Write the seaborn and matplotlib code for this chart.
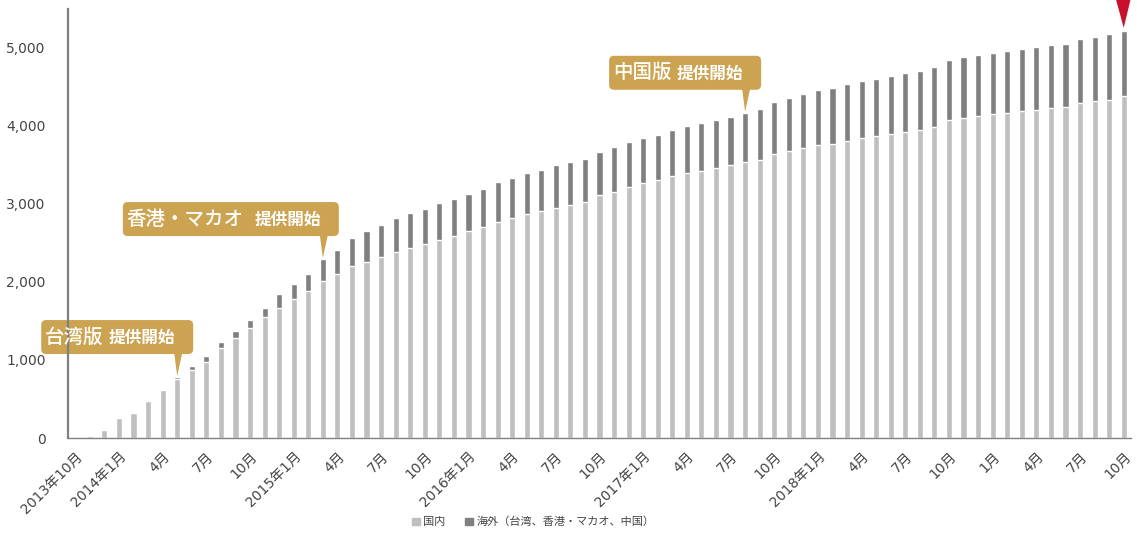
import numpy as np
import pandas as pd
import seaborn as sns
import matplotlib.pyplot as plt
import matplotlib.transforms as mtransforms
from matplotlib.patches import FancyBboxPatch, Polygon, Patch

sns.set_style("white")
plt.rcParams['font.family'] = ['DejaVu Sans', 'Noto Sans CJK JP']

# monthly values, 2013-10 .. 2019-10 (73 months)
domestic = [0, 30, 107, 252, 320, 473, 618, 759, 874, 977,
            1147, 1284, 1412, 1548, 1667, 1782, 1885, 2013, 2102, 2196,
            2256, 2320, 2384, 2435, 2486, 2537, 2588, 2648, 2695, 2768,
            2814, 2861, 2904, 2947, 2985, 3023, 3104, 3151, 3211, 3262,
            3296, 3352, 3394, 3420, 3458, 3497, 3527, 3557, 3629, 3667,
            3710, 3744, 3765, 3804, 3838, 3868, 3889, 3919, 3945, 3983,
            4072, 4098, 4119, 4141, 4162, 4183, 4200, 4222, 4239, 4290,
            4311, 4328, 4375]
overseas = [0, 0, 0, 0, 0, 0, 0, 21, 51, 72,
            85, 89, 98, 119, 175, 188, 209, 277, 307, 358,
            388, 405, 430, 439, 448, 465, 470, 478, 491, 503,
            512, 525, 529, 541, 546, 551, 559, 568, 572, 576,
            580, 588, 593, 606, 606, 610, 635, 652, 665, 683,
            695, 708, 717, 725, 729, 729, 738, 746, 750, 759,
            768, 772, 781, 784, 785, 794, 798, 801, 806, 814,
            823, 836, 836]

tick_labels = ["2013年10月", "2014年1月", "4月", "7月", "10月",
               "2015年1月", "4月", "7月", "10月",
               "2016年1月", "4月", "7月", "10月",
               "2017年1月", "4月", "7月", "10月",
               "2018年1月", "4月", "7月", "10月",
               "1月", "4月", "7月", "10月"]

# callouts: (bar index, main text, sub text, box width px)
callouts = [(7, "台湾版", "提供開始", 152),
            (17, "香港・マカオ", "提供開始", 216),
            (46, "中国版", "提供開始", 152)]

c_dom = "#bfbfbf"
c_ovs = "#7f7f7f"
c_gold = "#cca351"
c_red = "#c8102e"
cjk = ['Noto Sans CJK JP', 'DejaVu Sans']

df = pd.DataFrame({"month": [f"m{i:02d}" for i in range(len(domestic))],
                   "domestic": domestic, "overseas": overseas})
df["total"] = df["domestic"] + df["overseas"]

fig = plt.figure(figsize=(11.37, 5.35), dpi=100)
ax = fig.add_axes([68 / 1137, 1 - 438 / 535, (1131 - 68) / 1137, 429 / 535])

sns.barplot(data=df, x="month", y="total", color=c_ovs, width=0.42,
            saturation=1, ax=ax)
sns.barplot(data=df, x="month", y="domestic", color=c_dom, width=0.42,
            saturation=1, ax=ax)

n = len(df)
ax.set_xlim(-0.5, n - 0.5)
ax.set_ylim(0, 5490)
ax.set_xlabel("")
ax.set_ylabel("")

ax.set_xticks(np.arange(0, n, 3))
ax.set_xticklabels(tick_labels, rotation=45, ha="right",
                   rotation_mode="anchor", fontsize=10, color="#444444")
ax.set_xticks(np.arange(-0.5, n, 1), minor=True)
ax.tick_params(axis="x", which="major", length=0, pad=8)
ax.tick_params(axis="x", which="minor", length=4, width=0.8,
               color="#808080", direction="out")

ax.set_yticks(np.arange(0, 5001, 1000))
ax.set_yticklabels([f"{v:,}" for v in range(0, 5001, 1000)],
                   fontsize=10, color="#444444")
ax.tick_params(axis="y", length=0, pad=16)

sns.despine(ax=ax)
ax.spines["left"].set_color("#808080")
ax.spines["left"].set_linewidth(1.6)
ax.spines["bottom"].set_color("#808080")
ax.spines["bottom"].set_linewidth(1.0)


def anchor(i):
    # pixel offsets relative to the top of bar i
    return mtransforms.IdentityTransform() + mtransforms.ScaledTranslation(
        i, df["total"][i], ax.transData)


for idx, main, sub, w in callouts:
    tr = anchor(idx)
    box = FancyBboxPatch((16 - w, 23), w, 34,
                         boxstyle="round,pad=0,rounding_size=5",
                         fc=c_gold, ec="none", transform=tr, clip_on=False)
    ax.add_patch(box)
    ax.add_patch(Polygon([(-3, 24), (5, 24), (0, 1)], closed=True,
                         fc=c_gold, ec="none", transform=tr, clip_on=False))
    ax.text(20 - w, 40, main, transform=tr, ha="left", va="center",
            fontsize=14, color="white", fontweight="medium", family=cjk)
    ax.text(-2, 39, sub, transform=tr, ha="right", va="center",
            fontsize=12, color="white", fontweight="bold", family=cjk)

tr = anchor(n - 1)
ax.add_patch(Polygon([(-9, 36), (8, 36), (0, 3)], closed=True,
                     fc=c_red, ec="none", transform=tr, clip_on=False))

handles = [Patch(color=c_dom, label="国内"),
           Patch(color=c_ovs, label="海外（台湾、香港・マカオ、中国）")]
fig.legend(handles=handles, loc="center", bbox_to_anchor=(0.469, 1 - 522 / 535),
           ncol=2, frameon=False, fontsize=8, handlelength=0.7,
           handleheight=0.7, handletextpad=0.3, columnspacing=1.8,
           labelcolor="#444444", prop={'family': cjk, 'size': 8})

fig.savefig("out.png", dpi=100)
